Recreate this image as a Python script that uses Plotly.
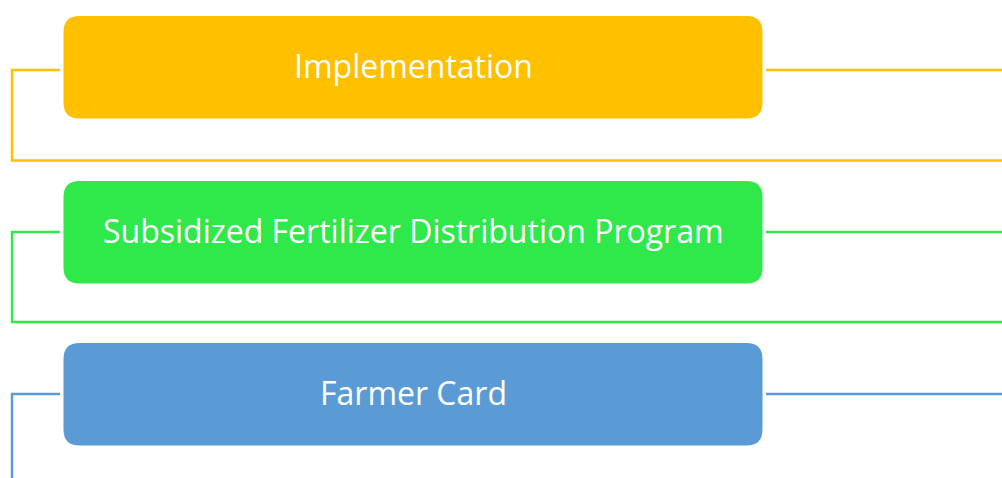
import plotly.graph_objects as go

labels = ["Implementation", "Subsidized Fertilizer Distribution Program", "Farmer Card"]
colors = ["#FFC000", "#2FE84A", "#5B9BD5"]

W, H = 1002, 478
box_x0, box_x1 = 63.5, 762.5
box_tops = [16, 181, 343]
box_h = 102.5
conn_y = [70, 232, 394]
bottom_y = [160.5, 322, 480]
r = 16

def rrect(x0, y0, x1, y1, r):
    return (f"M {x0+r},{y0} L {x1-r},{y0} Q {x1},{y0} {x1},{y0+r} "
            f"L {x1},{y1-r} Q {x1},{y1} {x1-r},{y1} L {x0+r},{y1} "
            f"Q {x0},{y1} {x0},{y1-r} L {x0},{y0+r} Q {x0},{y0} {x0+r},{y0} Z")

fig = go.Figure()
shapes = []
annotations = []
for i, (lab, col) in enumerate(zip(labels, colors)):
    t = box_tops[i]
    b = t + box_h
    cy = conn_y[i]
    by = bottom_y[i]
    shapes.append(dict(type="path", path=f"M 60,{cy} L 12,{cy} L 12,{by} L {W+5},{by}",
                       line=dict(color=col, width=2.4), xref="x", yref="y"))
    shapes.append(dict(type="line", x0=766, x1=W + 5, y0=cy, y1=cy,
                       line=dict(color=col, width=2.4), xref="x", yref="y"))
    shapes.append(dict(type="path", path=rrect(box_x0, t, box_x1, b, r),
                       fillcolor=col, line=dict(width=0), xref="x", yref="y"))
    annotations.append(dict(x=(box_x0 + box_x1) / 2, y=(t + b) / 2 - 2, text=lab,
                            showarrow=False, xref="x", yref="y",
                            font=dict(family="Open Sans", size=32, color="white")))

fig.update_layout(
    width=W, height=H,
    margin=dict(l=0, r=0, t=0, b=0),
    paper_bgcolor="white", plot_bgcolor="white",
    shapes=shapes, annotations=annotations,
    xaxis=dict(range=[0, W], visible=False, fixedrange=True),
    yaxis=dict(range=[H, 0], visible=False, fixedrange=True),
    showlegend=False,
)
fig.write_html("out.html", config={"displayModeBar": False},
               post_script="document.body.style.margin='0';document.body.style.overflow='hidden';")
